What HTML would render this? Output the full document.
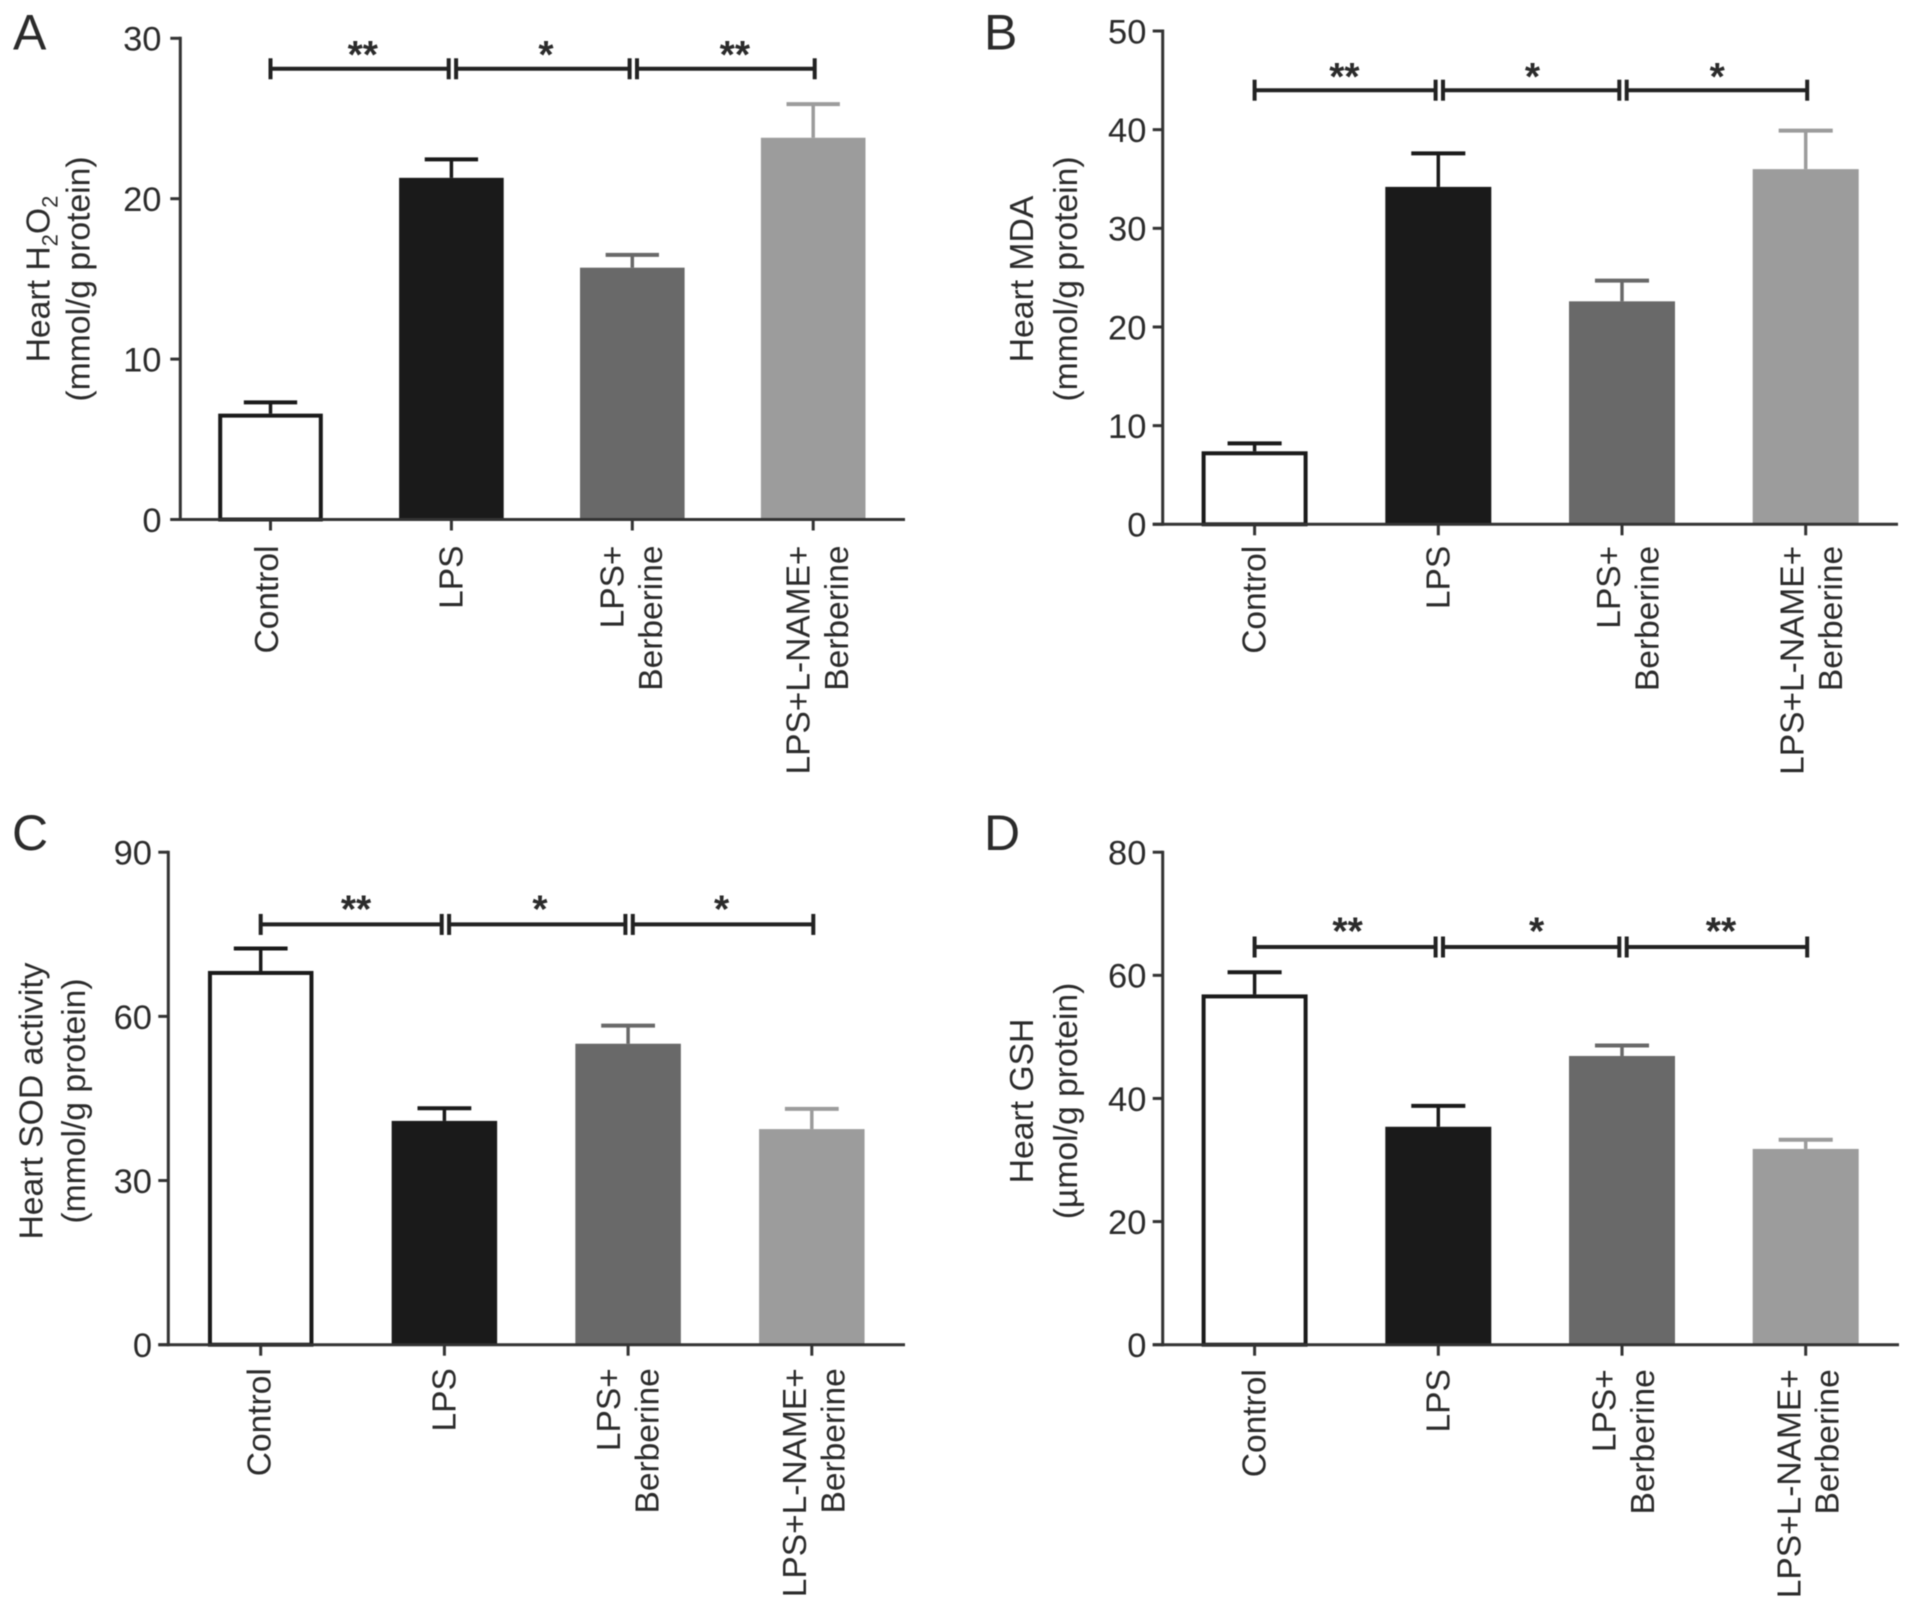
<!DOCTYPE html>
<html>
<head>
<meta charset="utf-8">
<title>Heart oxidative stress markers</title>
<style>
html,body{margin:0;padding:0;background:#fff;}
svg{display:block;filter:blur(0.5px);}
text{font-family:"Liberation Sans",sans-serif;fill:#2b2b2b;}
</style>
</head>
<body>
<svg id="figure" width="1913" height="1608" viewBox="0 0 1913 1608" xmlns="http://www.w3.org/2000/svg"></svg>
<script>
const categories = [["Control"], ["LPS"], ["LPS+", "Berberine"], ["LPS+L-NAME+", "Berberine"]];
const barFills = ["#ffffff", "#1a1a1a", "#696969", "#9c9c9c"];

const h2o2Means = [6.6, 21.3, 15.7, 23.8];
const h2o2ErrorTops = [7.3, 22.45, 16.5, 25.9];
const h2o2Ticks = [0, 10, 20, 30];
const h2o2Bracket = 28.1;
const h2o2Stars = ["**", "*", "**"];

const mdaMeans = [7.4, 34.2, 22.6, 36.0];
const mdaErrorTops = [8.2, 37.6, 24.7, 39.9];
const mdaTicks = [0, 10, 20, 30, 40, 50];
const mdaBracket = 44.0;
const mdaStars = ["**", "*", "*"];

const sodMeans = [68.3, 40.9, 55.0, 39.4];
const sodErrorTops = [72.4, 43.2, 58.3, 43.1];
const sodTicks = [0, 30, 60, 90];
const sodBracket = 76.8;
const sodStars = ["**", "*", "*"];

const gshMeans = [56.9, 35.4, 46.9, 31.8];
const gshErrorTops = [60.5, 38.8, 48.6, 33.3];
const gshTicks = [0, 20, 40, 60, 80];
const gshBracket = 64.6;
const gshStars = ["**", "*", "**"];

const NS = "http://www.w3.org/2000/svg";
const fig = document.getElementById("figure");

function mk(tag, attrs, parent) {
  const e = document.createElementNS(NS, tag);
  for (const k in attrs) e.setAttribute(k, attrs[k]);
  parent.appendChild(e);
  return e;
}
function line(parent, x1, y1, x2, y2, color, w) {
  return mk("line", {x1: x1, y1: y1, x2: x2, y2: y2, stroke: color, "stroke-width": w}, parent);
}

function drawPanel(p) {
  const g = mk("g", {}, fig);
  
  

  const yMax = p.ticks[p.ticks.length - 1];
  const y = v => p.base - (v / yMax) * (p.base - p.top);
  const x = i => p.cat0 + i * p.step;
  const AX = "#333333";

  const letter = mk("text", {x: p.letterX, y: p.letterY, "font-size": 50}, g);
  
  
  letter.textContent = p.letter;

  // bars and error bars
  p.means.forEach((m, i) => {
    const fill = barFills[i];
    const errColor = i === 0 ? "#1a1a1a" : fill;
    const stem = line(g, x(i), y(p.errs[i]), x(i), y(m), errColor, 3.5);
    
    
    const half = p.barW * 0.255;
    const cap = line(g, x(i) - half, y(p.errs[i]), x(i) + half, y(p.errs[i]), errColor, 4);
    
    
    const inset = i === 0 ? 2 : 0;
    const bar = mk("rect", {
      x: x(i) - p.barW / 2 + inset,
      y: y(m) + inset,
      width: p.barW - inset * 2,
      height: p.base - y(m) - inset,
      fill: fill
    }, g);
    if (i === 0) {
      bar.setAttribute("stroke", "#1a1a1a");
      bar.setAttribute("stroke-width", 4);
    }
    
    
  });

  // axes
  const yAxis = line(g, p.axisX, p.top - 1.5, p.axisX, p.base + 1.5, AX, 3);
  
  
  const xAxis = line(g, p.axisX - 10, p.base, p.right, p.base, AX, 3);
  
  

  p.ticks.forEach(t => {
    const tk = line(g, p.axisX - 10, y(t), p.axisX, y(t), AX, 3);
    
    
    const lb = mk("text", {x: p.axisX - p.tickGap, y: y(t) + 12.4, "font-size": 34.5, "text-anchor": "end"}, g);
    
    
    lb.textContent = t;
  });

  categories.forEach((lines, i) => {
    const tk = line(g, x(i), p.base, x(i), p.base + 11, AX, 3);
    
    
    lines.forEach((txt, j) => {
      const off = (lines.length === 1 ? 11 : p.lineOff[j]) + p.labelShift[i];
      const ty = p.base + p.labelGap;
      const tx = x(i) + off;
      const lb = mk("text", {x: tx, y: ty, "font-size": 33.5, "text-anchor": "end", transform: "rotate(-90 " + tx + " " + ty + ")"}, g);
      
      
      lb.textContent = txt;
    });
  });

  // y-axis title
  p.title.forEach((t, j) => {
    const tx = p.titleX[j];
    const lb = mk("text", {x: tx, y: p.titleY, "font-size": 33.7, "text-anchor": "middle", transform: "rotate(-90 " + tx + " " + p.titleY + ")"}, g);
    
    
    t.forEach(seg => {
      const s = mk("tspan", seg.sub ? {"font-size": 22, dy: 8} : (seg.after ? {dy: -8} : {}), lb);
      s.textContent = seg.t;
    });
  });

  // significance brackets
  const by = y(p.bracket);
  for (let i = 0; i < 3; i++) {
    const x1 = x(i) + (i === 0 ? 0 : 4.7);
    const x2 = x(i + 1) + (i === 2 ? 1.5 : -2.7);
    const br = mk("g", {}, g);
    
    
    line(br, x1, by, x2, by, "#222222", 4);
    line(br, x1, by - 10.5, x1, by + 10.5, "#222222", 4);
    line(br, x2, by - 10.5, x2, by + 10.5, "#222222", 4);
    const st = mk("text", {x: (x1 + x2) / 2 + p.starShift[i], y: by + 1 - p.starRise, "font-size": 39, "font-weight": "bold", "text-anchor": "middle"}, g);
    
    
    st.textContent = p.stars[i];
  }
}

drawPanel({letter: "A", letterX: 13, letterY: 49.5, axisX: 180.3, top: 38.3, base: 519.5, right: 905,
  cat0: 270.5, step: 180.9, barW: 104.6, tickGap: 18.8, labelGap: 26, lineOff: [-3.7, 34.7], labelShift: [-3.5, 0, -5, 0],
  ticks: h2o2Ticks, means: h2o2Means, errs: h2o2ErrorTops,
  bracket: h2o2Bracket, stars: h2o2Stars, starShift: [3.2, 3.1, 9], starRise: 2,
  title: [[{t: "Heart H"}, {t: "2", sub: true}, {t: "O", after: true}, {t: "2", sub: true}], [{t: "(mmol/g protein)"}]],
  titleX: [49.5, 89.5], titleY: 279});
drawPanel({letter: "B", letterX: 984, letterY: 49.5, axisX: 1162.7, top: 31, base: 524.3, right: 1898,
  cat0: 1254.6, step: 183.7, barW: 106, tickGap: 16.3, labelGap: 21.5, lineOff: [-2, 36.5], labelShift: [0, 0, 0, 0],
  ticks: mdaTicks, means: mdaMeans, errs: mdaErrorTops,
  bracket: mdaBracket, stars: mdaStars, starShift: [-0.7, 1.3, 0.3], starRise: 1,
  title: [[{t: "Heart MDA"}], [{t: "(mmol/g protein)"}]],
  titleX: [1033, 1077], titleY: 279});
drawPanel({letter: "C", letterX: 12, letterY: 850, axisX: 168.3, top: 852.2, base: 1344.7, right: 905,
  cat0: 260.7, step: 183.7, barW: 105.5, tickGap: 16.3, labelGap: 23.5, lineOff: [-4, 34.5], labelShift: [-1, 0, -4, -2],
  ticks: sodTicks, means: sodMeans, errs: sodErrorTops,
  bracket: sodBracket, stars: sodStars, starShift: [4.8, 2.7, -1.5], starRise: 3,
  title: [[{t: "Heart SOD activity"}], [{t: "(mmol/g protein)"}]],
  titleX: [42.5, 85], titleY: 1101});
drawPanel({letter: "D", letterX: 984, letterY: 850, axisX: 1162.7, top: 852.2, base: 1344.7, right: 1899,
  cat0: 1254.6, step: 183.7, barW: 106, tickGap: 16.3, labelGap: 24.5, lineOff: [-4.4, 34], labelShift: [0, 0, -2, -1],
  ticks: gshTicks, means: gshMeans, errs: gshErrorTops,
  bracket: gshBracket, stars: gshStars, starShift: [2.5, 5.5, 4], starRise: 3.5,
  title: [[{t: "Heart GSH"}], [{t: "(\u00b5mol/g protein)"}]],
  titleX: [1033, 1077], titleY: 1101});
</script>
</body>
</html>
